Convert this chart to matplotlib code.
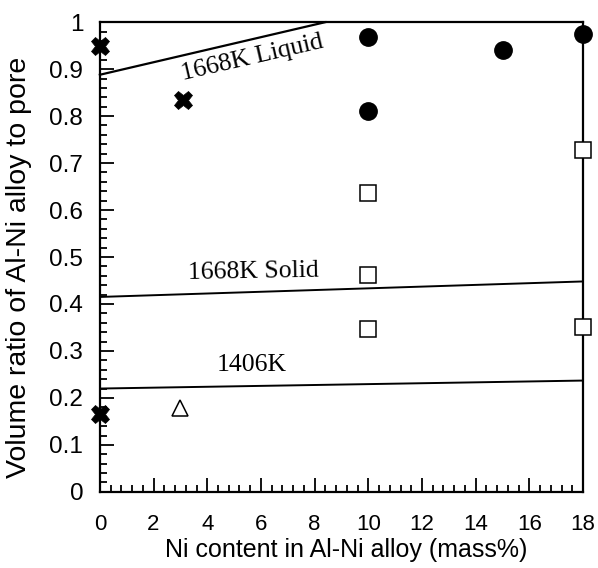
import matplotlib
matplotlib.use('Agg')
import matplotlib.pyplot as plt
import numpy as np
from matplotlib.ticker import MultipleLocator

# measured points
cross_x = [0, 3.1, 0]
cross_y = [0.95, 0.835, 0.165]
circle_x = [10, 10, 15, 18]
circle_y = [0.968, 0.81, 0.94, 0.975]
square_x = [10, 10, 10, 18, 18]
square_y = [0.637, 0.462, 0.347, 0.727, 0.352]
tri_x = [3.0]
tri_y = [0.178]

# boundary lines (x ends, y ends)
liquid_x = [0, 8.4]
liquid_y = [0.888, 1.0]
solid_x = [0, 18]
solid_y = [0.415, 0.448]
low_x = [0, 18]
low_y = [0.22, 0.237]

ytick_labels = ['0', '0.1', '0.2', '0.3', '0.4', '0.5', '0.6', '0.7', '0.8', '0.9', '1']

plt.rcParams['font.family'] = ['Liberation Sans', 'DejaVu Sans']

fig = plt.figure(figsize=(5.98, 5.68), dpi=100)
ax = fig.add_axes([0.167, 0.134, 0.808, 0.827])

lc = 'black'
ax.plot(liquid_x, liquid_y, color=lc, lw=1.6, clip_on=False)
ax.plot(solid_x, solid_y, color=lc, lw=1.4)
ax.plot(low_x, low_y, color=lc, lw=1.4)

ax.plot(cross_x, cross_y, 'X', color='black', ms=13, mew=0.5, clip_on=False, zorder=5)
ax.plot(circle_x, circle_y, 'o', color='black', ms=12.5, clip_on=False, zorder=5)
ax.plot(square_x, square_y, 's', mfc='white', mec='black', ms=12, mew=1.1, clip_on=False, zorder=5)
ax.plot(tri_x, tri_y, '^', mfc='white', mec='black', ms=12, mew=1.1, clip_on=False, zorder=5)

serif = ['Liberation Serif', 'DejaVu Serif']
ax.text(5.66, 0.923, '1668K Liquid', family=serif, fontsize=18.5, rotation=13,
        ha='center', va='center')
ax.text(5.7, 0.468, '1668K Solid', family=serif, fontsize=18.5, rotation=1,
        ha='center', va='center')
ax.text(5.66, 0.27, '1406K', family=serif, fontsize=18.5, ha='center', va='center')

ax.set_xlim(0, 18)
ax.set_ylim(0, 1)
ax.xaxis.set_major_locator(MultipleLocator(2))
ax.xaxis.set_minor_locator(MultipleLocator(0.4))
ax.yaxis.set_minor_locator(MultipleLocator(0.02))
ax.set_yticks(np.arange(0, 1.01, 0.1))
ax.set_yticklabels(ytick_labels)

ax.tick_params(which='both', direction='in', top=False, right=False, width=1.3)
ax.tick_params(which='major', length=10)
ax.tick_params(axis='x', which='major', pad=16, labelsize=16)
ax.tick_params(axis='y', which='major', pad=12, labelsize=17.5)
ax.tick_params(which='minor', length=5)
for s in ax.spines.values():
    s.set_linewidth(1.6)

ax.set_xlabel('Ni content in Al-Ni alloy (mass%)', fontsize=18)
ax.set_ylabel('Volume ratio of Al-Ni alloy to pore', fontsize=20.5)
ax.xaxis.set_label_coords(0.509, -0.098)
ax.yaxis.set_label_coords(-0.14, 0.477)

fig.savefig('out.png', dpi=100)
